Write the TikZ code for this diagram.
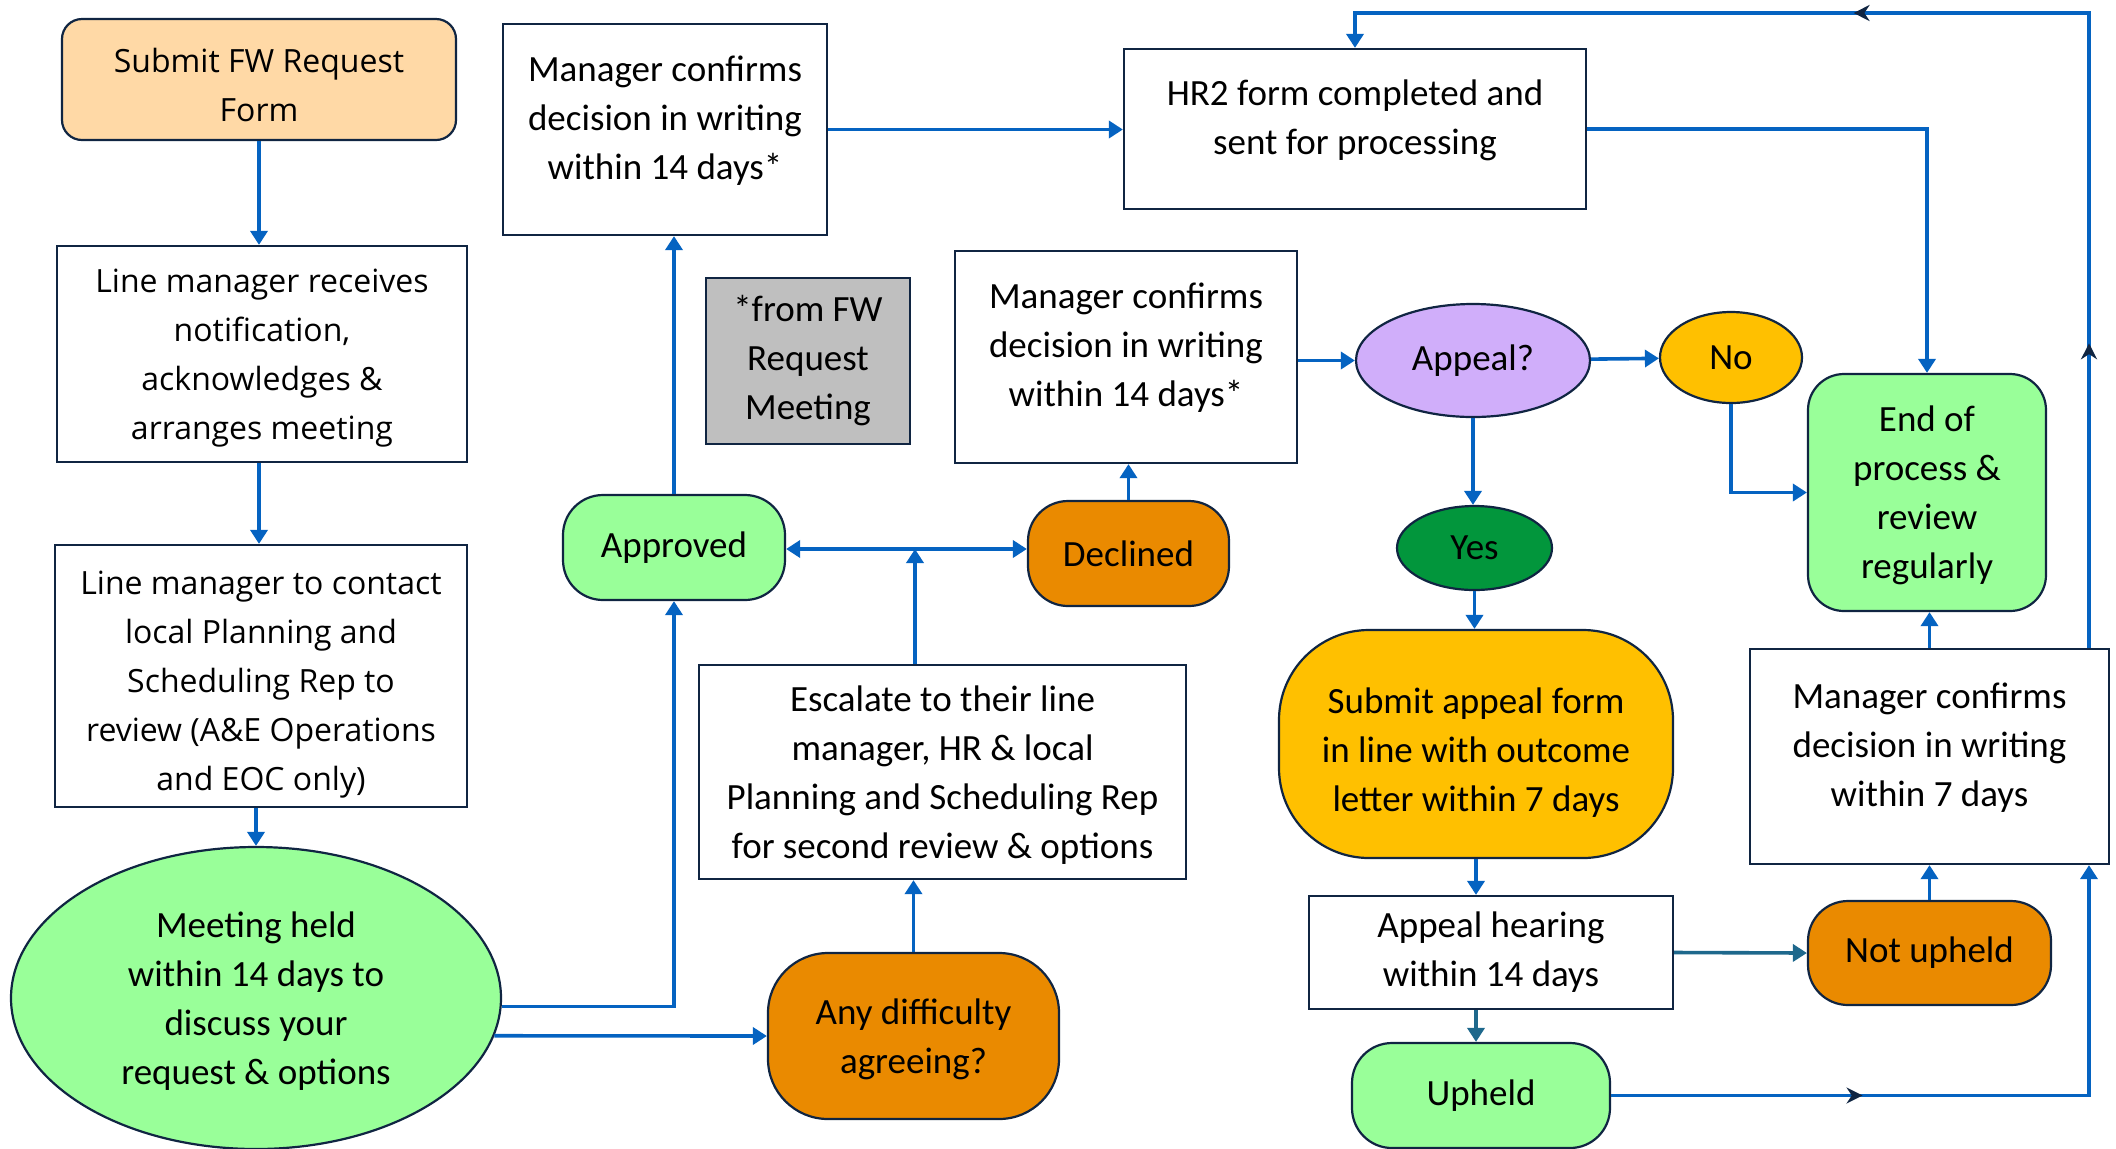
\documentclass[tikz,border=0pt]{standalone}
\usepackage{fontspec}
\setmainfont{Carlito}
\newfontfamily\segoe{Open Sans}
\usetikzlibrary{arrows.meta,shapes.geometric,decorations.markings}

\definecolor{linkblue}{RGB}{5,99,193}
\definecolor{linkteal}{RGB}{30,104,140}
\definecolor{edgenavy}{RGB}{16,37,66}
\definecolor{peach}{RGB}{255,217,166}
\definecolor{palegreen}{RGB}{153,255,153}
\definecolor{amber}{RGB}{234,138,0}
\definecolor{gold}{RGB}{255,192,0}
\definecolor{lilac}{RGB}{208,174,250}
\definecolor{darkgreen}{RGB}{2,150,60}
\definecolor{midgrey}{RGB}{191,191,191}

\begin{document}
\begin{tikzpicture}[x=0.5pt,y=-0.5pt,
    every node/.style={draw=edgenavy, line width=1.1pt, align=center, inner sep=0pt,
      font=\fontsize{18.5}{24.5}\selectfont},
    plain/.style={rectangle, fill=white},
    lifted/.style={text depth=12pt},
    sink/.style={text depth=#1},
    lefttext/.style={font=\segoe\fontsize{16}{24.5}\selectfont},
    soft/.style={rectangle, rounded corners=#1},
    soft/.default=20pt,
    oval/.style={ellipse},
    conn/.style={draw=linkblue, line width=1.8pt, -{Triangle[length=7pt,width=8.5pt]}},
    midtip/.style={postaction={decorate, decoration={markings,
      mark=at position #1 with {\arrow[color=edgenavy]{Stealth[length=8pt,width=8pt]}}}}}
  ]
  \useasboundingbox (0,0) rectangle (2116,1148);
  \coordinate (rline) at (2089,0);
  \coordinate (topy) at (0,13);
  \coordinate (junc) at (915,549);
  \draw
    (259,79.5) node[soft=10pt, lefttext, text height=42pt, sink=0pt, fill=peach, minimum width=197pt, minimum height=60.5pt] (submit)
      {Submit FW Request\\Form}
    (262,354) node[plain, lefttext, sink=0pt, minimum width=205pt, minimum height=108pt] (lmrecv)
      {Line manager receives\\notification,\\acknowledges \&\\arranges meeting}
    (261,676) node[plain, lefttext, text height=114pt, sink=0pt, minimum width=206pt, minimum height=131pt] (lmcontact)
      {Line manager to contact\\local Planning and\\Scheduling Rep to\\review (A\&E Operations\\and EOC only)}
    (256,998) node[oval, sink=0pt, fill=palegreen, minimum width=245pt, minimum height=151pt] (meeting)
      {Meeting held\\within 14 days to\\discuss your\\request \& options}
    (665,129.5) node[plain, lifted, minimum width=162pt, minimum height=105.5pt] (mgrtop)
      {Manager confirms\\decision in writing\\within 14 days*}
    (808,361) node[plain, fill=midgrey, minimum width=102pt, minimum height=83pt] (note)
      {*from FW\\Request\\Meeting}
    (674,547.5) node[soft, fill=palegreen, minimum width=111pt, minimum height=52.5pt] (approved)
      {Approved}
    (1128.5,553.5) node[soft, fill=amber, minimum width=100.5pt, minimum height=52.5pt] (declined)
      {Declined}
    (942.5,772) node[plain, sink=0pt, minimum width=243.5pt, minimum height=107pt] (escalate)
      {Escalate to their line\\manager, HR \& local\\Planning and Scheduling Rep\\for second review \& options}
    (913.5,1036) node[soft=30pt, sink=0pt, fill=amber, minimum width=145.5pt, minimum height=83pt] (any)
      {Any difficulty\\agreeing?}
    (1126,357) node[plain, lifted, minimum width=171pt, minimum height=106pt] (mgrmid)
      {Manager confirms\\decision in writing\\within 14 days*}
    (1355,129) node[plain, lifted, minimum width=231pt, minimum height=80pt] (hr2)
      {HR2 form completed and\\sent for processing}
    (1473,360.5) node[oval, fill=lilac, minimum width=117pt, minimum height=56.5pt] (appeal)
      {Appeal?}
    (1731,357.5) node[oval, fill=gold, minimum width=71pt, minimum height=45.5pt] (no)
      {No}
    (1474.5,548) node[oval, fill=darkgreen, minimum width=77.5pt, minimum height=42pt] (yes)
      {Yes}
    (1927,492.5) node[soft=18pt, sink=0pt, fill=palegreen, minimum width=119pt, minimum height=118.5pt] (endp)
      {End of\\process \&\\review\\regularly}
    (1476,744) node[soft=45pt, text height=67pt, sink=0pt, fill=gold, minimum width=197pt, minimum height=114pt] (sappeal)
      {Submit appeal form\\in line with outcome\\letter within 7 days}
    (1929.5,756.5) node[plain, lifted, minimum width=179.5pt, minimum height=107.5pt] (mgrright)
      {Manager confirms\\decision in writing\\within 7 days}
    (1491,952.5) node[plain, minimum width=182pt, minimum height=56.5pt] (hearing)
      {Appeal hearing\\within 14 days}
    (1929.5,953) node[soft, fill=amber, minimum width=121.5pt, minimum height=52pt] (notup)
      {Not upheld}
    (1481,1095.5) node[soft, fill=palegreen, minimum width=129pt, minimum height=52.5pt] (upheld)
      {Upheld};
  \begin{scope}[conn]
    \draw (submit.south) to (submit.south |- lmrecv.north);
    \draw (lmrecv.south -| submit.south) to (submit.south |- lmcontact.north);
    \draw (lmcontact.south -| meeting.north) to (meeting.north);
    \draw (meeting.-2) -| (approved.south);
    \draw (meeting.-9) to (any.west);
    \draw (any.north) to (any.north |- escalate.south);
    \draw (junc |- escalate.north) to (junc);
    \draw (junc) to (junc -| approved.east);
    \draw (junc) to (junc -| declined.west);
    \draw (approved.north) to (approved.north |- mgrtop.south);
    \draw (declined.north) to (declined.north |- mgrmid.south);
    \draw (mgrtop.east) to (mgrtop.east -| hr2.west);
    \draw (mgrmid.east |- appeal.west) to (appeal.west);
    \draw (appeal) to (no);
    \draw (appeal.south) to (appeal.south |- yes.north);
    \draw (no.south) |- (endp.west);
    \draw (hr2.east) -| (endp.north);
    \draw (yes.south) to (yes.south |- sappeal.north);
    \draw (sappeal.south) to (sappeal.south |- hearing.north);
    \draw[draw=linkteal] (sappeal.south |- hearing.south) to (sappeal.south |- upheld.north);
    \draw[draw=linkteal] (hearing.east) to (notup.west);
    \draw (notup.north) to (notup.north |- mgrright.south);
    \draw (mgrright.north) to (mgrright.north |- endp.south);
    \draw[midtip=0.355] (upheld.east) -| (rline |- mgrright.south);
    \draw[midtip=0.217, midtip=0.62] (rline |- mgrright.north) -- (rline |- topy) -| (hr2.north);
  \end{scope}
\end{tikzpicture}
\end{document}
